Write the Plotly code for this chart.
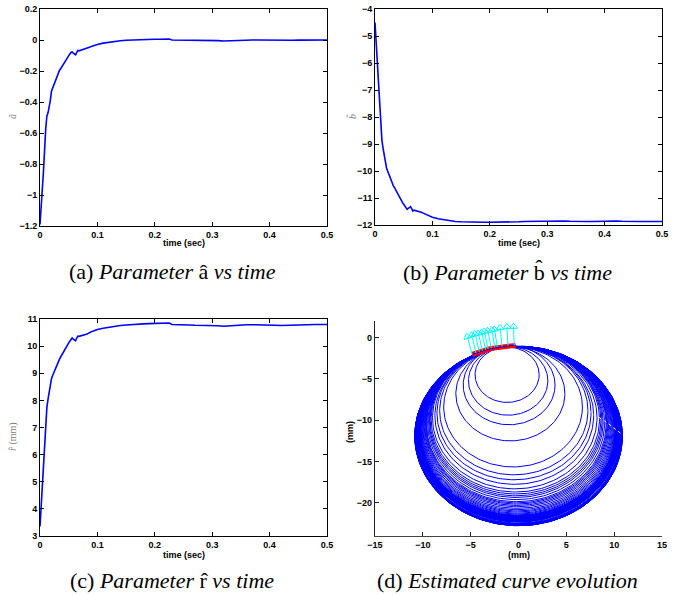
import numpy as np
import plotly.graph_objects as go

# ---------------- data ----------------
t = [0, 0.002, 0.004, 0.006, 0.010, 0.012, 0.014, 0.016, 0.018, 0.020,
     0.022, 0.024, 0.026, 0.028, 0.030, 0.032, 0.034, 0.036, 0.038, 0.040,
     0.042, 0.044, 0.046, 0.048, 0.050, 0.052, 0.054, 0.056, 0.058, 0.060,
     0.062, 0.064, 0.066, 0.068, 0.070, 0.072, 0.074, 0.076, 0.078, 0.080,
     0.082, 0.084, 0.086, 0.088, 0.090, 0.092, 0.094, 0.096, 0.098, 0.100,
     0.11, 0.12, 0.13, 0.14, 0.15, 0.16, 0.17, 0.18, 0.19, 0.20, 0.21, 0.22, 0.225,
     0.23, 0.24, 0.25, 0.26, 0.27, 0.28, 0.29, 0.30, 0.31, 0.32, 0.33, 0.34, 0.35,
     0.36, 0.37, 0.38, 0.39, 0.40, 0.41, 0.42, 0.43, 0.44, 0.45, 0.46, 0.47, 0.48,
     0.49, 0.50]

a_hat = [-1.19, -1.08, -0.98, -0.85, -0.57, -0.49, -0.47, -0.44, -0.39, -0.33,
         -0.31, -0.29, -0.27, -0.245, -0.225, -0.21, -0.195, -0.185, -0.172, -0.16,
         -0.148, -0.135, -0.123, -0.11, -0.10, -0.09, -0.08, -0.077, -0.085, -0.092,
         -0.095, -0.08, -0.068, -0.07, -0.068, -0.066, -0.064, -0.062, -0.06, -0.057,
         -0.054, -0.05, -0.047, -0.044, -0.041, -0.038, -0.035, -0.033, -0.031, -0.029,
         -0.02, -0.014, -0.009, -0.005, -0.002, 0.0, 0.002, 0.003, 0.004, 0.005, 0.005, 0.006, 0.006,
         0.0, 0.0, -0.001, -0.002, -0.003, -0.004, -0.003, -0.002, -0.004, -0.006, -0.004, -0.002, -0.001,
         0.0, 0.0, 0.0, -0.001, -0.002, -0.003, -0.004, -0.003, -0.002, -0.001, 0.0, 0.0, 0.0,
         0.0, 0.0]

b_hat = [-4.50, -5.24, -5.75, -6.80, -8.40, -8.85, -9.15, -9.45, -9.70, -9.88,
         -10.00, -10.12, -10.22, -10.35, -10.47, -10.55, -10.62, -10.70, -10.78, -10.88,
         -10.97, -11.04, -11.10, -11.17, -11.23, -11.28, -11.35, -11.42, -11.38, -11.33,
         -11.32, -11.40, -11.48, -11.45, -11.46, -11.47, -11.48, -11.49, -11.50, -11.52,
         -11.54, -11.56, -11.58, -11.60, -11.62, -11.64, -11.66, -11.68, -11.69, -11.71,
         -11.77, -11.81, -11.84, -11.87, -11.88, -11.89, -11.90, -11.90, -11.90, -11.90, -11.90, -11.90, -11.90,
         -11.88, -11.88, -11.88, -11.87, -11.86, -11.86, -11.86, -11.86, -11.85, -11.84, -11.85, -11.86, -11.87,
         -11.87, -11.87, -11.87, -11.86, -11.86, -11.86, -11.85, -11.86, -11.87, -11.87, -11.87, -11.87, -11.87,
         -11.87, -11.87]

r_hat = [3.35, 4.15, 4.80, 5.70, 7.25, 7.75, 8.05, 8.30, 8.60, 8.80,
         8.92, 9.02, 9.12, 9.25, 9.38, 9.45, 9.52, 9.60, 9.68, 9.77,
         9.85, 9.93, 10.00, 10.07, 10.12, 10.18, 10.25, 10.30, 10.26, 10.22,
         10.20, 10.30, 10.37, 10.36, 10.37, 10.38, 10.39, 10.40, 10.41, 10.43,
         10.45, 10.47, 10.50, 10.52, 10.54, 10.55, 10.57, 10.58, 10.59, 10.61,
         10.66, 10.70, 10.73, 10.76, 10.78, 10.80, 10.81, 10.82, 10.83, 10.84, 10.84, 10.85, 10.85,
         10.80, 10.80, 10.79, 10.78, 10.77, 10.77, 10.77, 10.77, 10.75, 10.73, 10.75, 10.77, 10.78,
         10.79, 10.79, 10.79, 10.78, 10.78, 10.77, 10.76, 10.77, 10.78, 10.79, 10.79, 10.80, 10.80,
         10.80, 10.80]

# contact points (red) on the estimated curve
contact_x = [-4.85, -4.4, -3.95, -3.5, -3.05, -2.6, -2.15, -1.7, -1.25, -0.8, -0.3]
contact_y = [-2.05, -1.85, -1.67, -1.52, -1.39, -1.28, -1.19, -1.11, -1.04, -0.98, -0.95]

# cyan normal arrows
arrow_x0 = [-4.85, -4.45, -4.10, -3.78, -3.43, -3.18, -2.85, -2.48, -2.22, -1.72, -1.10, -0.45]
arrow_y0 = [-2.05, -1.87, -1.72, -1.60, -1.48, -1.40, -1.30, -1.21, -1.16, -1.07, -1.00, -0.95]
arrow_x1 = [-5.34, -4.88, -4.53, -4.19, -3.83, -3.56, -3.20, -2.78, -2.50, -1.92, -1.21, -0.52]
arrow_y1 = [0.10, 0.30, 0.45, 0.50, 0.60, 0.72, 0.82, 0.90, 0.98, 1.18, 1.30, 1.32]

# white dotted trace on the right side of the circles
white_x = [6.8, 8.2, 9.24, 10.92]
white_y = [-8.46, -9.47, -10.28, -11.79]

x_ticks_time = [0, 0.1, 0.2, 0.3, 0.4, 0.5]
captions = ["(a) <i>Parameter</i> â <i>vs time</i>",
            "(b) <i>Parameter</i> b\u0302 <i>vs time</i>",
            "(c) <i>Parameter</i> r\u0302 <i>vs time</i>",
            "(d) <i>Estimated curve evolution</i>"]

# ---------------- layout geometry ----------------
W, H = 681, 595
def fx(px):
    return px / W
def fy(py):
    return 1 - py / H

boxes = {
    1: ([40, 327], [9, 226]),
    2: ([375, 662], [9, 225]),
    3: ([40, 327], [319, 536]),
    4: ([375, 662], [321, 536]),
}

BLUE = "#0000ff"
tickfont = dict(family="Liberation Sans, Arial, sans-serif", size=9, color="black", weight="bold")

fig = go.Figure()

fig.add_trace(go.Scatter(x=t, y=a_hat, mode="lines", line=dict(color=BLUE, width=1.6),
                         xaxis="x", yaxis="y", showlegend=False))
fig.add_trace(go.Scatter(x=t, y=b_hat, mode="lines", line=dict(color=BLUE, width=1.6),
                         xaxis="x2", yaxis="y2", showlegend=False))
fig.add_trace(go.Scatter(x=t, y=r_hat, mode="lines", line=dict(color=BLUE, width=1.6),
                         xaxis="x3", yaxis="y3", showlegend=False))

# circles of the estimated curve
theta = np.linspace(0, 2 * np.pi, 181)
cx, cy = [], []
for ai, bi, ri in zip(a_hat, b_hat, r_hat):
    cx += list(ai + ri * np.cos(theta)) + [None]
    cy += list(bi + ri * np.sin(theta)) + [None]
fig.add_trace(go.Scatter(x=cx, y=cy, mode="lines", line=dict(color=BLUE, width=1),
                         xaxis="x4", yaxis="y4", showlegend=False))

fig.add_trace(go.Scatter(x=white_x, y=white_y, mode="lines",
                         line=dict(color="white", width=1, dash="dot"),
                         xaxis="x4", yaxis="y4", showlegend=False))

fig.add_trace(go.Scatter(x=contact_x, y=contact_y, mode="lines",
                         line=dict(color="#ff0000", width=5),
                         xaxis="x4", yaxis="y4", showlegend=False))
fig.add_trace(go.Scatter(x=contact_x, y=contact_y, mode="lines",
                         line=dict(color=BLUE, width=1),
                         xaxis="x4", yaxis="y4", showlegend=False))

# arrows
sx, sy = [], []
for x0, y0, x1, y1 in zip(arrow_x0, arrow_y0, arrow_x1, arrow_y1):
    sx += [x0, x1, None]
    sy += [y0, y1, None]
fig.add_trace(go.Scatter(x=sx, y=sy, mode="lines", line=dict(color="#00ffff", width=1),
                         xaxis="x4", yaxis="y4", showlegend=False))
xr4, yr4 = [-15, 15], [-24, 2]
kx = (boxes[4][0][1] - boxes[4][0][0]) / (xr4[1] - xr4[0])
ky = (boxes[4][1][1] - boxes[4][1][0]) / (yr4[1] - yr4[0])
angles = [float(np.degrees(np.arctan2((x1 - x0) * kx, (y1 - y0) * ky)))
          for x0, y0, x1, y1 in zip(arrow_x0, arrow_y0, arrow_x1, arrow_y1)]
fig.add_trace(go.Scatter(x=arrow_x1, y=arrow_y1, mode="markers",
                         marker=dict(symbol="triangle-up-open", size=7, color="#00ffff",
                                     angle=angles, line=dict(width=1, color="#00ffff")),
                         xaxis="x4", yaxis="y4", showlegend=False))

def boxed(dom_px, rng, dtick, anchor, tickvals=None):
    d = dict(domain=dom_px, range=rng, showline=True, linecolor="black", linewidth=1,
             mirror="ticks", ticks="inside", ticklen=4, tickcolor="black", tickwidth=1,
             showgrid=False, zeroline=False, tickfont=tickfont, anchor=anchor,
             automargin=False)
    if tickvals is not None:
        d["tickvals"] = tickvals
    else:
        d["dtick"] = dtick
        d["tick0"] = 0
    return d

layout = dict(width=W, height=H, margin=dict(l=0, r=0, t=0, b=0, autoexpand=False),
              paper_bgcolor="white", plot_bgcolor="white", showlegend=False)

for i, (yr, dt) in {1: ([-1.2, 0.2], 0.2), 2: ([-12, -4], 1), 3: ([3, 11], 1)}.items():
    xs_, ys_ = boxes[i]
    xd = [fx(xs_[0]), fx(xs_[1])]
    yd = [fy(ys_[1]), fy(ys_[0])]
    sfx = "" if i == 1 else str(i)
    layout["xaxis" + sfx] = boxed(xd, [0, 0.5], None, "y" + sfx, tickvals=x_ticks_time)
    layout["yaxis" + sfx] = boxed(yd, yr, dt, "x" + sfx)

xs_, ys_ = boxes[4]
layout["xaxis4"] = dict(domain=[fx(xs_[0]), fx(xs_[1])], range=xr4, anchor="y4",
                        showline=True, linecolor="#444444", linewidth=1.3, mirror=False,
                        ticks="inside", ticklen=4, tickcolor="#222222",
                        tickvals=[-15, -10, -5, 0, 5, 10, 15], automargin=False,
                        showgrid=False, zeroline=False, tickfont=tickfont)
layout["yaxis4"] = dict(domain=[fy(ys_[1]), fy(ys_[0])], range=yr4, anchor="x4",
                        showline=True, linecolor="#222222", linewidth=1.3, mirror=False,
                        ticks="inside", ticklen=4, tickcolor="#222222",
                        tickvals=[-20, -15, -10, -5, 0], automargin=False,
                        showgrid=False, zeroline=False, tickfont=tickfont)

ann = []
def text_at(px, py, text, font, angle=0):
    ann.append(dict(x=fx(px), y=fy(py), xref="paper", yref="paper", text=text,
                    showarrow=False, xanchor="center", yanchor="middle",
                    textangle=angle, font=font))

lab_font = dict(family="Liberation Sans, Arial, sans-serif", size=9, color="black", weight="bold")
gray_font = dict(family="Liberation Serif, Times New Roman, serif", size=10, color="#808080")
cap_font = dict(family="Liberation Serif, Times New Roman, serif", size=22, color="black")

text_at(183.5, 243, "time (sec)", lab_font)
text_at(518.5, 243, "time (sec)", lab_font)
text_at(183.5, 555, "time (sec)", lab_font)
text_at(518.5, 555, "(mm)", lab_font)
text_at(350, 432, "(mm)", lab_font, -90)
text_at(13, 117, "<i>â</i>", gray_font, -90)
text_at(352, 117, "<i>b\u0302</i>", gray_font, -90)
text_at(13, 437, "<i>r\u0302</i> (mm)", gray_font, -90)

text_at(172, 272, captions[0], cap_font)
text_at(507, 273, captions[1], cap_font)
text_at(172, 580, captions[2], cap_font)
text_at(507, 580, captions[3], cap_font)

layout["annotations"] = ann
fig.update_layout(**layout)

fig.write_html("out.html", config={"displayModeBar": False},
               post_script="document.body.style.margin='0px';document.body.style.overflow='hidden';")
